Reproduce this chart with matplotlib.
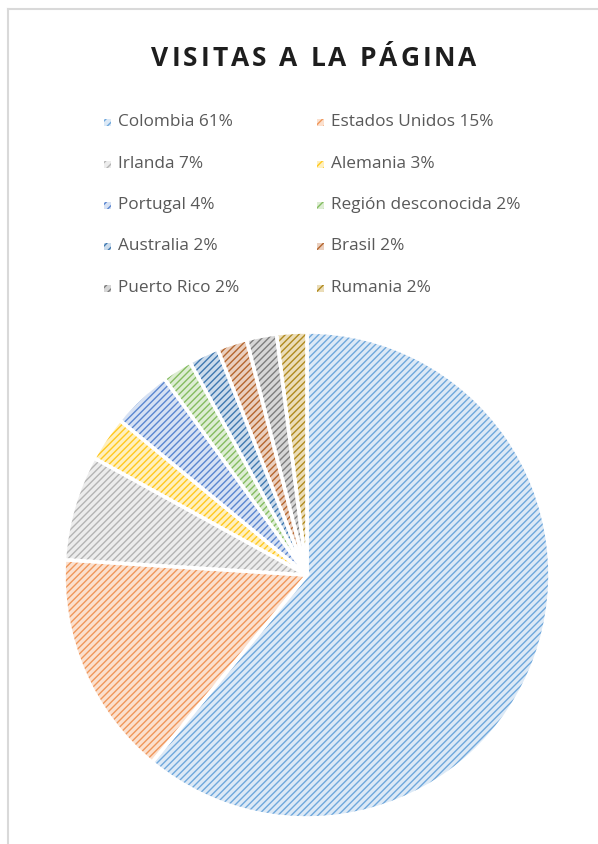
import matplotlib
matplotlib.use("Agg")
import matplotlib.pyplot as plt
from matplotlib.patches import Rectangle, Wedge
from matplotlib.lines import Line2D

# ---- data ----
title = "VISITAS A LA PÁGINA"
countries = ["Colombia", "Estados Unidos", "Irlanda", "Alemania", "Portugal",
             "Región desconocida", "Australia", "Brasil", "Puerto Rico", "Rumania"]
percent = [61, 15, 7, 3, 4, 2, 2, 2, 2, 2]
hatch_colors = ["#6FA8DC", "#F0965A", "#B4B4B4", "#FFC81E", "#5A86D0",
                "#84BC60", "#3E78B0", "#B5662E", "#7D7D7D", "#B08A1E"]
face_colors = ["#DCE9F6", "#FBE0CE", "#ECECEC", "#FFF0BE", "#D6E1F3",
               "#DDEDD3", "#CBDBEB", "#EACFBE", "#D6D6D6", "#EBDDB8"]

W, H = 598, 844
fig = plt.figure(figsize=(W / 100, H / 100), dpi=100)
fig.patch.set_facecolor("white")

# outer border (left and top visible)
fig.add_artist(Line2D([8 / W, 8 / W], [0, 1 - 9 / H], color="#D9D9D9", lw=1.5, transform=fig.transFigure))
fig.add_artist(Line2D([8 / W, 1], [1 - 9 / H, 1 - 9 / H], color="#D9D9D9", lw=1.5, transform=fig.transFigure))

# ---- pie ----
cx, cy, r = 307, 575, 243
ax = fig.add_axes([(cx - r) / W, (H - cy - r) / H, 2 * r / W, 2 * r / H])
plt.rcParams['hatch.linewidth'] = 1.0
wedges, _ = ax.pie(percent, startangle=90, counterclock=False, colors=face_colors,
                   wedgeprops=dict(edgecolor="white", linewidth=0))
for w, hc in zip(wedges, hatch_colors):
    hw = Wedge(w.center, w.r, w.theta1, w.theta2, facecolor="none", edgecolor=hc,
               linewidth=0, hatch="/////")
    ax.add_patch(hw)
    ew = Wedge(w.center, w.r, w.theta1, w.theta2, facecolor="none", edgecolor="white",
               linewidth=2.6)
    ax.add_patch(ew)
ax.set_xlim(-1.0, 1.0)
ax.set_ylim(-1.0, 1.0)
ax.set_aspect("equal")
ax.axis("off")

# ---- title with letter spacing ----
renderer = fig.canvas.get_renderer()
tfont = dict(family="Open Sans", weight="bold", size=19, color="#1E1E1E")
spacing = 3.0
widths = []
for ch in title:
    t = fig.text(0, 0, ch if ch != " " else "n", **tfont)
    bb = t.get_window_extent(renderer)
    widths.append(bb.width if ch != " " else bb.width * 0.4)
    t.remove()
total = sum(widths) + spacing * (len(title) - 1)
x = 314 - total / 2
for ch, wd in zip(title, widths):
    if ch != " ":
        fig.text(x / W, 1 - 58 / H, ch, va="center", ha="left", **tfont)
    x += wd + spacing

# ---- legend ----
col_x = [107, 320]
row_y = [122, 164, 205, 246, 288]
for i, (name, p) in enumerate(zip(countries, percent)):
    lx = col_x[i % 2]
    ly = row_y[i // 2]
    fig.add_artist(Rectangle(((lx - 3.5) / W, 1 - (ly + 3.5) / H), 7 / W, 7 / H,
                             transform=fig.transFigure, facecolor=face_colors[i],
                             edgecolor=hatch_colors[i], hatch="////", linewidth=0))
    fig.text((lx + 11) / W, 1 - ly / H, f"{name} {p}%", va="center", ha="left",
             family="Open Sans", size=12.4, color="#595959")

fig.savefig("out.png", dpi=100)
